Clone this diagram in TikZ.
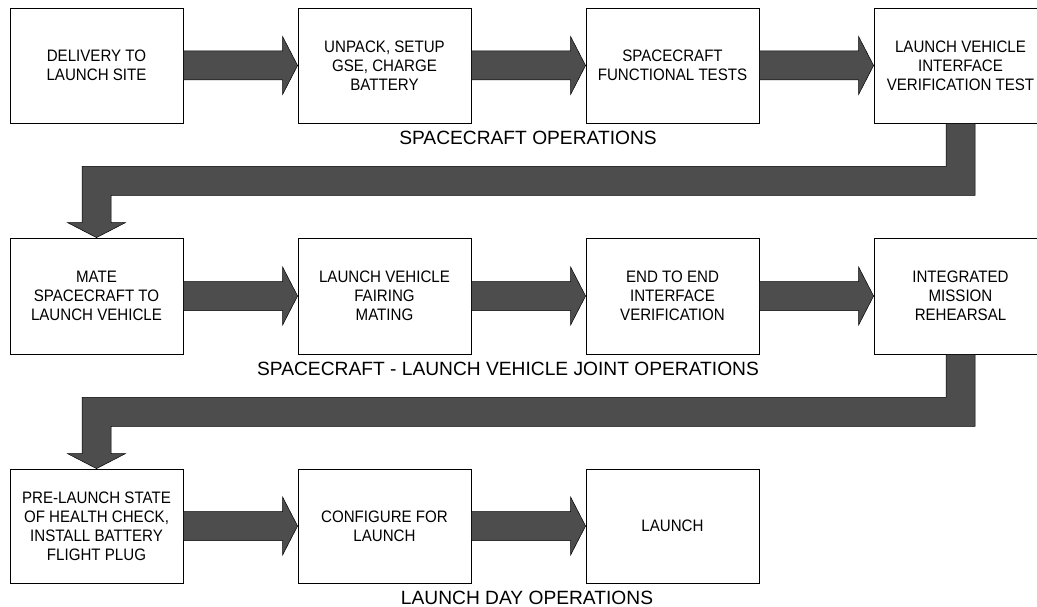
\documentclass[tikz,border=0pt]{standalone}
\usepackage{fontspec}
\setmainfont{Liberation Sans}
\newfontfamily\stagefont[FakeStretch=0.91]{Liberation Sans}
\usetikzlibrary{calc}
\definecolor{arrowgray}{HTML}{4D4D4D}
\tikzset{
  stage/.style={draw=black, fill=white, line width=0.8pt, minimum width=173pt,
    minimum height=115pt, inner sep=0pt, align=center,
    font=\stagefont\fontsize{16.6}{19.1}\selectfont},
  flow/.style={fill=arrowgray, draw=black, line width=0.5pt, line join=miter},
  phase/.style={font=\fontsize{19.2}{22}\selectfont, inner sep=0pt},
}
% straight block arrow from the east side of #1 to the west side of #2
\newcommand\flowright[2]{%
  \draw[flow] ($(#1.east)+(0,-14.5)$) -- ($(#2.west)+(-15,-14.5)$)
    -- ($(#2.west)+(-15,-29)$) -- (#2.west) -- ($(#2.west)+(-15,29)$)
    -- ($(#2.west)+(-15,14.5)$) -- ($(#1.east)+(0,14.5)$) -- cycle;}
% elbow block arrow from the bottom of #1 to the top of #2
\newcommand\flowdown[2]{%
  \draw[flow] ($(#1.south)+(-14.5,0)$) -- ($(#1.south)+(-14.5,43)$)
    -- ($(#1.south -| #2.north)+(-14.5,43)$) -- ($(#2.north)+(-14.5,-15)$)
    -- ($(#2.north)+(-29,-15)$) -- (#2.north) -- ($(#2.north)+(29,-15)$)
    -- ($(#2.north)+(14.5,-15)$) -- ($(#1.south -| #2.north)+(14.5,72)$)
    -- ($(#1.south)+(14.5,72)$) -- ($(#1.south)+(14.5,0)$) -- cycle;}
\begin{document}
\begin{tikzpicture}[x=1pt, y=-1pt]
\useasboundingbox (0,0) rectangle (1037,607);

% spacecraft operations
\node[stage] (a1) at (96.5,65.5) {DELIVERY TO\\LAUNCH SITE};
\node[stage] (a2) at (384.5,65.5) {UNPACK, SETUP\\GSE, CHARGE\\BATTERY};
\node[stage] (a3) at (672.5,65.5) {SPACECRAFT\\FUNCTIONAL TESTS};
\node[stage] (a4) at (960.5,65.5) {LAUNCH VEHICLE\\INTERFACE\\VERIFICATION TEST};

% joint operations
\node[stage, minimum height=116pt] (b1) at (96.5,296) {MATE\\SPACECRAFT TO\\LAUNCH VEHICLE};
\node[stage, minimum height=116pt] (b2) at (384.5,296) {LAUNCH VEHICLE\\FAIRING\\MATING};
\node[stage, minimum height=116pt] (b3) at (672.5,296) {END TO END\\INTERFACE\\VERIFICATION};
\node[stage, minimum height=116pt] (b4) at (960.5,296) {INTEGRATED\\MISSION\\REHEARSAL};

% launch day operations
\node[stage, minimum height=114pt] (c1) at (96.5,526) {PRE-LAUNCH STATE\\OF HEALTH CHECK,\\INSTALL BATTERY\\FLIGHT PLUG};
\node[stage, minimum height=114pt] (c2) at (384.5,526) {CONFIGURE FOR\\LAUNCH};
\node[stage, minimum height=114pt] (c3) at (672.5,526) {LAUNCH};

% connectors
\flowright{a1}{a2}
\flowright{a2}{a3}
\flowright{a3}{a4}
\flowdown{a4}{b1}
\flowright{b1}{b2}
\flowright{b2}{b3}
\flowright{b3}{b4}
\flowdown{b4}{c1}
\flowright{c1}{c2}
\flowright{c2}{c3}

% phase captions
\node[phase] (p1) at (528,137.5) {SPACECRAFT OPERATIONS};
\node[phase] (p2) at (508,368.5) {SPACECRAFT - LAUNCH VEHICLE JOINT OPERATIONS};
\node[phase] (p3) at (527,597.5) {LAUNCH DAY OPERATIONS};
\end{tikzpicture}
\end{document}
